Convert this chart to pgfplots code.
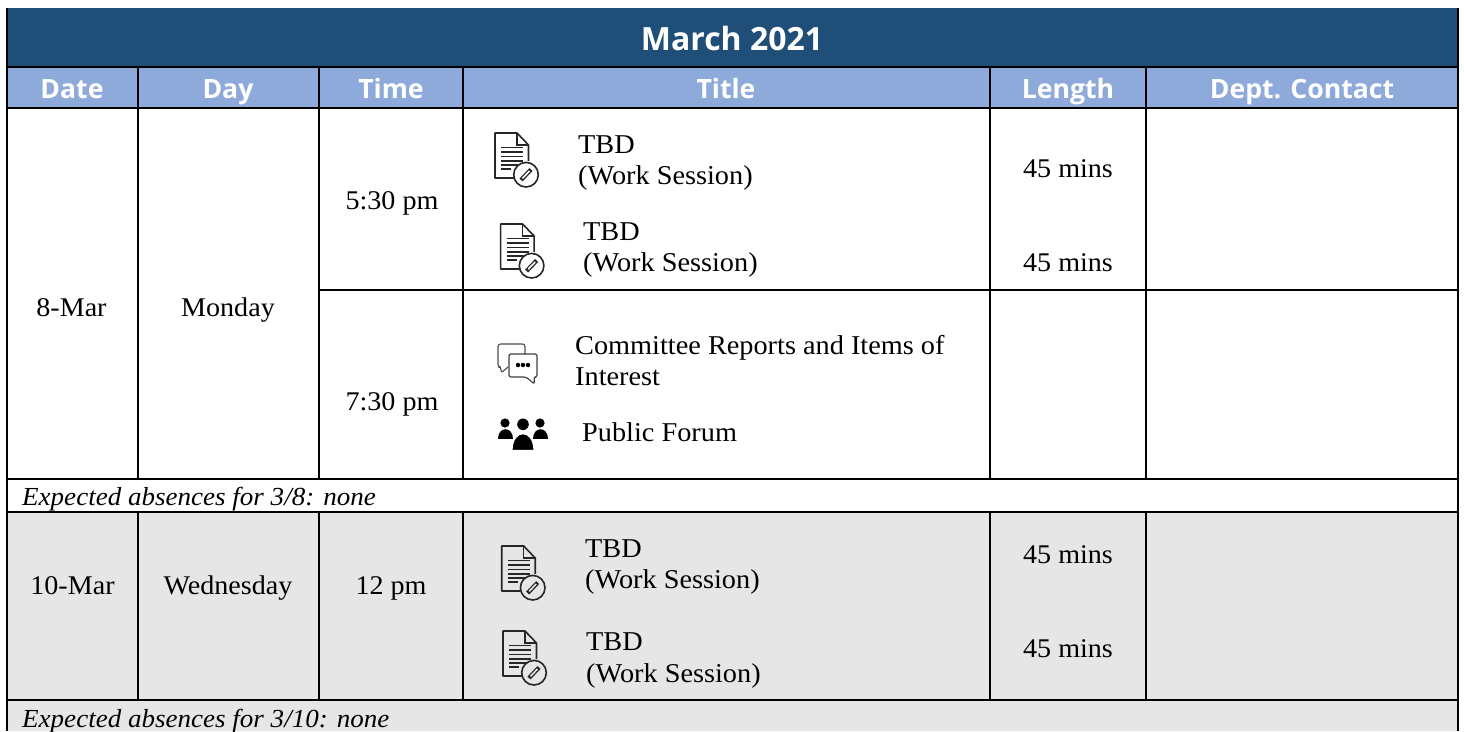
\documentclass[border=0pt]{standalone}
\usepackage{pgfplots}
\pgfplotsset{compat=1.18}
\usepackage{fontspec}
\setmainfont[FakeStretch=1.04]{Liberation Serif}
\newfontfamily\head{Open Sans}
\definecolor{headdark}{HTML}{1F4E79}
\definecolor{headlight}{HTML}{8EAADB}
\definecolor{rowgray}{HTML}{E6E6E6}
\newcommand\body[3]{\node[anchor=base west,inner sep=0pt,font=\fontsize{27.2}{30}\selectfont,text=black] at (axis cs:#1,#2) {#3};}
\newcommand\ctr[3]{\node[anchor=base,inner sep=0pt,font=\fontsize{27}{30}\selectfont,text=black] at (axis cs:#1,#2) {#3};}
\newcommand\ital[3]{\node[anchor=base west,inner sep=0pt,font=\fontsize{26}{30}\selectfont\itshape,text=black] at (axis cs:#1,#2) {#3};}
\newcommand\hd[3]{\node[anchor=base,inner sep=0pt,font=\head\bfseries\fontsize{26.6}{30}\selectfont,text=white] at (axis cs:#1,#2) {#3};}
\newcommand\hrul[3]{\addplot[black,line width=2pt,forget plot] coordinates {(#1,#3) (#2,#3)};}
\newcommand\vrul[3]{\addplot[black,line width=2pt,forget plot] coordinates {(#1,#2) (#1,#3)};}
\newcommand\band[5]{\addplot[#5,fill=#5,draw=none,forget plot] coordinates {(#1,#3) (#2,#3) (#2,#4) (#1,#4) (#1,#3)};}
\newcommand\docicon[3]{%
\begin{scope}[shift={(axis cs:#1,#2)},x=1pt,y=-1pt]
 \draw[line width=1.6pt,black!85,line join=round] (19,45) -- (0,45) -- (0,0) -- (22,0) -- (33.5,12) -- (33.5,28);
 \draw[line width=1.4pt,black!85] (22,0) -- (22,12) -- (33.5,12);
 \draw[line width=1.5pt,black!85] (6,14.5) -- (28,14.5) (6,19) -- (28,19) (6,23.5) -- (28,23.5) (6,28) -- (28,28) (6,32) -- (23,32) (6,36) -- (16,36);
 \draw[line width=1.6pt,black!85,fill=#3] (31,41.7) circle (12.3);
 \draw[line width=4.2pt,black!85] (26,47) -- (36,36.5);
 \draw[line width=1.6pt,#3] (27.5,45.3) -- (34.5,38);
\end{scope}}
\newcommand\chaticon[2]{%
\begin{scope}[shift={(axis cs:#1,#2)},x=1pt,y=-1pt]
 \draw[line width=1.1pt,black!70,line join=round,rounded corners=2.5pt] (10,23) -- (3,29) -- (3,23) -- (0,23) -- (0,0) -- (27,0) -- (27,10);
 \draw[line width=1.2pt,black!75,line join=round,rounded corners=2pt] (11,10) -- (39,10) -- (39,33) -- (36,33) -- (36.5,40) -- (28,33) -- (11,33) -- cycle;
 \fill[black] (20,21) circle (2.2) (25,21) circle (2.2) (30,21) circle (2.2);
\end{scope}}
\newcommand\peopleicon[2]{%
\begin{scope}[shift={(axis cs:#1,#2)},x=1pt,y=-1pt]
 \fill[black] (7,5) circle (4.6) (42,5) circle (4.6) (25,6.3) circle (5.8);
 \fill[black] (0,21) .. controls (0,8) and (15,8) .. (15,21) -- cycle;
 \fill[black] (35,21) .. controls (35,8) and (50,8) .. (50,21) -- cycle;
 \fill[black,draw=white,line width=1.2pt] (14,32.5) .. controls (14,10) and (36,10) .. (36,32.5) -- cycle;
\end{scope}}
\begin{document}
\begin{tikzpicture}
\begin{axis}[at={(0,0)},anchor=south west,scale only axis,width=1464pt,height=731pt,
 xmin=0,xmax=1464,ymin=0,ymax=731,y dir=reverse,axis lines=none,clip=true]
\band{7}{1458}{8}{67}{headdark}
\band{7}{1458}{67}{108}{headlight}
\band{7}{1458}{512}{731}{rowgray}
\hrul{6}{1459}{67}
\hrul{6}{1459}{108}
\hrul{319}{1459}{290}
\hrul{6}{1459}{479}
\hrul{6}{1459}{512}
\hrul{6}{1459}{700}
\vrul{6.5}{8}{731}
\vrul{1458}{8}{731}
\vrul{138}{67}{479}
\vrul{319}{67}{479}
\vrul{463}{67}{479}
\vrul{990}{67}{479}
\vrul{1146}{67}{479}
\vrul{138}{512}{700}
\vrul{319}{512}{700}
\vrul{463}{512}{700}
\vrul{990}{512}{700}
\vrul{1146}{512}{700}
\node[anchor=base,inner sep=0pt,font=\head\bfseries\fontsize{32}{36}\selectfont,text=white] at (axis cs:732,50) {March 2021};
\hd{72}{98}{Date}
\hd{228}{98}{Day}
\hd{391}{98}{Time}
\hd{726}{98}{Title}
\hd{1068}{98}{Length}
\hd{1302}{98}{Dept. Contact}
\ctr{71.5}{316}{8-Mar}
\ctr{228}{316}{Monday}
\ctr{392}{209}{5:30 pm}
\ctr{392}{410}{7:30 pm}
\body{578}{153}{TBD}
\body{578}{184}{(Work Session)}
\body{583}{240}{TBD}
\body{583}{271}{(Work Session)}
\ctr{1068}{177}{45 mins}
\ctr{1068}{271}{45 mins}
\body{575}{354}{Committee Reports and Items of}
\body{575}{385}{Interest}
\body{582}{441}{Public Forum}
\ital{22}{505}{Expected absences for 3/8: none}
\ctr{72.5}{594}{10-Mar}
\ctr{228}{594}{Wednesday}
\ctr{391}{594}{12 pm}
\body{585}{557}{TBD}
\body{585}{588}{(Work Session)}
\body{586}{650}{TBD}
\body{586}{682}{(Work Session)}
\ctr{1068}{563}{45 mins}
\ctr{1068}{657}{45 mins}
\ital{22}{727}{Expected absences for 3/10: none}
\docicon{495}{133}{white}
\docicon{500.6}{224}{white}
\docicon{501.7}{546}{rowgray}
\docicon{503}{631}{rowgray}
\chaticon{498}{344}
\peopleicon{498}{418}
\end{axis}
\pgfresetboundingbox
\path[use as bounding box] (0,0) rectangle (1464pt,731pt);
\end{tikzpicture}
\end{document}
